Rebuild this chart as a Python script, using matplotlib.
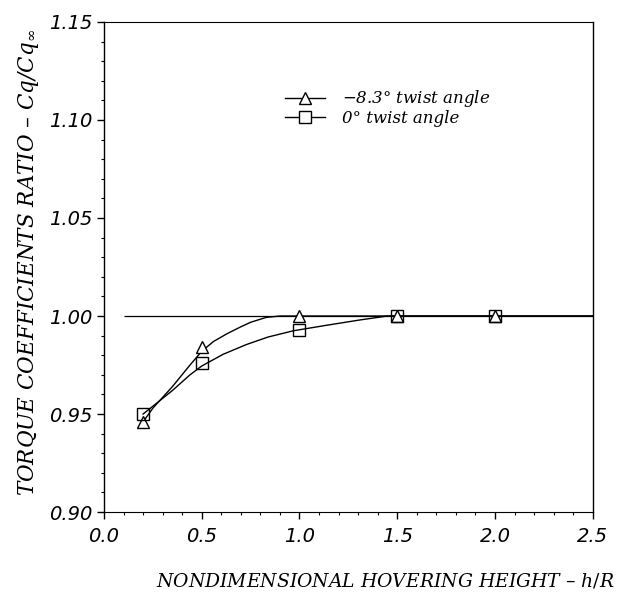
import matplotlib
matplotlib.use("Agg")
import matplotlib.pyplot as plt
from matplotlib.ticker import MultipleLocator, FormatStrFormatter

plt.rcParams["mathtext.fontset"] = "dejavuserif"

# Measured points
h_pts = [0.2, 0.5, 1.0, 1.5, 2.0]
twist_83 = [0.946, 0.984, 1.000, 1.000, 1.000]
twist_0 = [0.950, 0.976, 0.993, 1.000, 1.000]

# Faired curves through the data
fit_h_83 = [0.2, 0.25, 0.35, 0.44, 0.5, 0.56, 0.63, 0.70, 0.75, 0.83, 0.90, 2.5]
fit_v_83 = [0.946, 0.953, 0.964, 0.975, 0.982, 0.987, 0.991, 0.9945, 0.9968, 0.9993, 1.000, 1.000]
fit_h_0 = [0.2, 0.25, 0.35, 0.44, 0.5, 0.61, 0.73, 0.84, 0.97, 1.14, 1.31, 1.45, 2.5]
fit_v_0 = [0.950, 0.954, 0.962, 0.970, 0.9745, 0.9805, 0.9855, 0.9893, 0.9925, 0.9953, 0.998, 1.000, 1.000]

# Reference line at ratio 1
ref_level = 1.0
ref_start = 0.1

xticks = [0.0, 0.5, 1.0, 1.5, 2.0, 2.5]
yticks = [0.90, 0.95, 1.00, 1.05, 1.10, 1.15]

fig = plt.figure(figsize=(6.38, 5.92), dpi=100)
ax = fig.add_axes([0.163, 0.135, 0.766, 0.828])

ax.hlines(ref_level, ref_start, 2.5, color="black", linewidth=0.9)
ax.plot(fit_h_83, fit_v_83, color="black", linewidth=1.0)
ax.plot(fit_h_0, fit_v_0, color="black", linewidth=1.0)

ax.plot(h_pts, twist_83, linestyle="none", marker="^", markersize=9,
        markerfacecolor="white", markeredgecolor="black", markeredgewidth=1.0, zorder=4)
ax.plot(h_pts, twist_0, linestyle="none", marker="s", markersize=9,
        markerfacecolor="none", markeredgecolor="black", markeredgewidth=1.0, zorder=4)

# legend handles
l1, = ax.plot([], [], color="black", linewidth=1.0, marker="^", markersize=9,
              markerfacecolor="white", markeredgecolor="black")
l2, = ax.plot([], [], color="black", linewidth=1.0, marker="s", markersize=9,
              markerfacecolor="white", markeredgecolor="black")
ax.legend([l1, l2], ["$-$8.3° twist angle", "0° twist angle"],
          loc="upper left", bbox_to_anchor=(0.34, 0.895), frameon=False,
          handlelength=2.4, handletextpad=1.0, labelspacing=0.05,
          prop={"family": "DejaVu Serif", "style": "italic", "size": 12})

ax.set_xlim(0.0, 2.5)
ax.set_ylim(0.90, 1.15)
ax.set_xticks(xticks)
ax.set_yticks(yticks)
ax.xaxis.set_minor_locator(MultipleLocator(0.1))
ax.yaxis.set_minor_locator(MultipleLocator(0.01))
ax.xaxis.set_major_formatter(FormatStrFormatter("%.1f"))
ax.yaxis.set_major_formatter(FormatStrFormatter("%.2f"))
ax.tick_params(which="major", direction="out", length=5, width=1.0, pad=3)
ax.tick_params(which="minor", direction="out", length=2.5, width=0.8)
ax.tick_params(axis="x", which="major", pad=6)

for lab in ax.get_xticklabels() + ax.get_yticklabels():
    lab.set_fontfamily("DejaVu Sans")
    lab.set_fontstyle("italic")
    lab.set_fontsize(14)

for sp in ax.spines.values():
    sp.set_linewidth(1.0)
ax.spines["top"].set_linewidth(0.8)
ax.spines["bottom"].set_linewidth(0.8)

ax.set_xlabel("NONDIMENSIONAL HOVERING HEIGHT – $h/R$", family="DejaVu Serif",
              style="italic", fontsize=13.5, labelpad=18, x=0.575)
ax.set_ylabel(r"TORQUE COEFFICIENTS RATIO – Cq/Cq$_{\infty}$", family="DejaVu Serif",
              style="italic", fontsize=15.5, labelpad=6, y=0.51)

fig.savefig("out.png", dpi=100)
